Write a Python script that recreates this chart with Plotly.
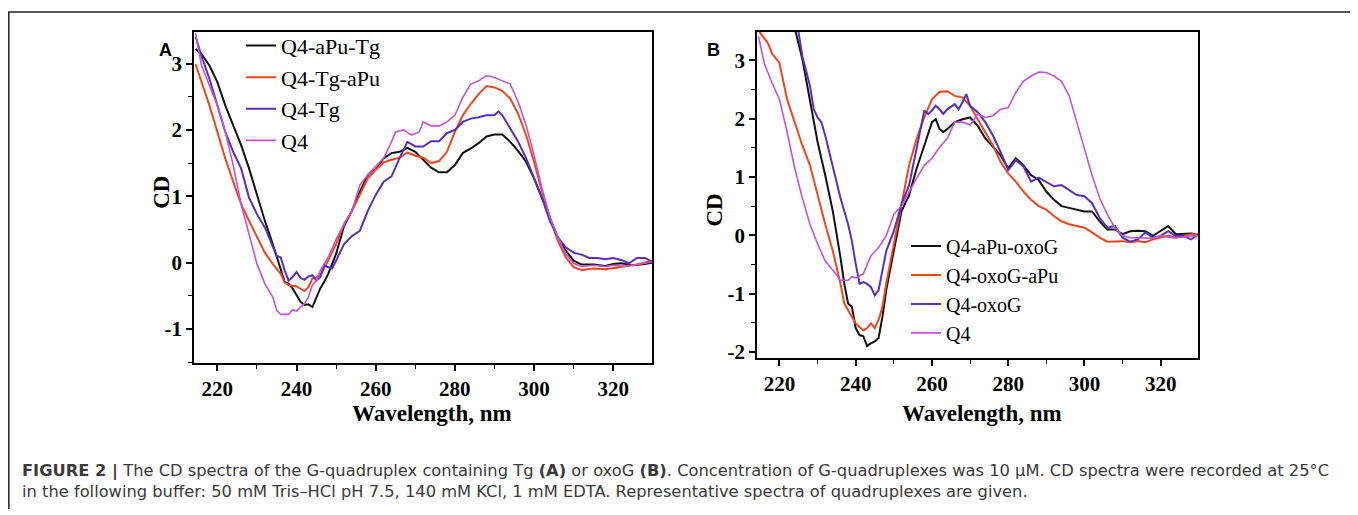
import plotly.graph_objects as go

# ---------------- Panel A data ----------------
a_black_x = [214.5, 216, 218, 220, 222, 224, 226, 228, 230, 232, 234, 236, 237, 238, 239, 240, 241, 242, 243, 244, 245, 246, 247, 248, 249, 250, 252, 254, 256, 258, 259, 260, 262, 264, 266, 268, 270, 272, 274, 276, 278, 280, 282, 284, 286, 288, 290, 292, 294, 296, 298, 300, 302, 304, 306, 308, 310, 312, 315, 318, 320, 322, 325, 328, 330]
a_black_y = [3.22, 3.14, 2.97, 2.72, 2.37, 2.07, 1.77, 1.42, 1.02, 0.63, 0.28, -0.12, -0.29, -0.32, -0.39, -0.49, -0.59, -0.64, -0.63, -0.67, -0.54, -0.39, -0.29, -0.17, -0.02, 0.13, 0.55, 0.78, 1.07, 1.32, 1.38, 1.40, 1.57, 1.65, 1.67, 1.73, 1.67, 1.55, 1.43, 1.36, 1.36, 1.47, 1.65, 1.72, 1.80, 1.90, 1.93, 1.93, 1.82, 1.68, 1.52, 1.27, 0.98, 0.68, 0.38, 0.18, 0.03, -0.03, -0.03, -0.05, -0.02, -0.01, -0.04, -0.02, 0.0]

a_orange_x = [214.5, 216, 218, 220, 222, 224, 226, 228, 230, 232, 234, 236, 237, 238, 240, 242, 243, 244, 245, 246, 248, 250, 252, 254, 256, 258, 260, 262, 264, 266, 268, 270, 272, 274, 276, 278, 280, 282, 284, 286, 288, 290, 292, 294, 296, 298, 300, 302, 304, 306, 308, 310, 312, 315, 318, 320, 323, 326, 330]
a_orange_y = [2.99, 2.72, 2.37, 1.97, 1.57, 1.22, 0.88, 0.63, 0.38, 0.15, -0.02, -0.17, -0.30, -0.34, -0.36, -0.43, -0.37, -0.24, -0.22, -0.19, 0.03, 0.28, 0.58, 0.78, 1.02, 1.27, 1.40, 1.51, 1.55, 1.58, 1.66, 1.61, 1.58, 1.50, 1.53, 1.67, 1.97, 2.22, 2.39, 2.54, 2.66, 2.64, 2.59, 2.47, 2.24, 1.92, 1.52, 1.07, 0.68, 0.33, 0.08, -0.07, -0.11, -0.09, -0.10, -0.08, -0.06, -0.03, 0.03]

a_purple_x = [214.5, 216, 218, 220, 222, 224, 226, 228, 230, 232, 234, 235, 236, 237, 238, 239, 240, 241, 242, 243, 244, 245, 246, 247, 248, 249, 250, 252, 254, 256, 258, 260, 262, 264, 266, 268, 270, 272, 274, 276, 278, 280, 282, 284, 286, 288, 290, 291, 292, 294, 296, 298, 300, 302, 304, 306, 308, 310, 312, 314, 316, 318, 320, 322, 324, 326, 328, 330]
a_purple_y = [3.41, 3.11, 2.77, 2.37, 1.97, 1.67, 1.42, 0.98, 0.73, 0.53, 0.23, 0.10, 0.08, -0.12, -0.27, -0.22, -0.14, -0.23, -0.26, -0.21, -0.19, -0.27, -0.22, -0.04, -0.07, -0.09, 0.03, 0.28, 0.40, 0.48, 0.78, 1.02, 1.22, 1.30, 1.57, 1.82, 1.75, 1.75, 1.83, 1.83, 1.95, 2.00, 2.12, 2.17, 2.19, 2.22, 2.22, 2.28, 2.22, 2.02, 1.82, 1.57, 1.27, 0.98, 0.63, 0.38, 0.23, 0.15, 0.12, 0.07, 0.07, 0.05, 0.07, 0.04, -0.01, 0.07, 0.07, 0.01]

a_q4_x = [214.5, 216, 218, 220, 222, 224, 226, 228, 230, 232, 234, 235, 236, 238, 239, 240, 241, 242, 243, 244, 245, 246, 248, 250, 252, 254, 256, 258, 260, 262, 264, 265, 267, 269, 271, 272, 274, 276, 278, 280, 282, 284, 286, 288, 290, 292, 294, 296, 298, 300, 302, 304, 306, 308, 310, 312, 315, 318, 320, 323, 326, 328, 330]
a_q4_y = [3.46, 2.97, 2.67, 2.37, 1.97, 1.47, 0.88, 0.43, -0.02, -0.32, -0.52, -0.72, -0.78, -0.78, -0.71, -0.73, -0.67, -0.62, -0.52, -0.34, -0.27, -0.12, 0.08, 0.35, 0.58, 0.78, 1.17, 1.32, 1.45, 1.57, 1.82, 1.97, 2.00, 1.92, 1.97, 2.12, 2.06, 2.06, 2.12, 2.22, 2.49, 2.69, 2.74, 2.82, 2.79, 2.74, 2.69, 2.42, 2.07, 1.62, 1.12, 0.68, 0.38, 0.13, -0.01, -0.06, -0.04, -0.06, -0.04, -0.06, -0.03, -0.01, 0.01]

# ---------------- Panel B data ----------------
b_black_x = [222, 223, 224, 226, 227, 228, 229, 230, 232, 234, 236, 237, 238, 239, 240, 241, 242, 243, 244, 245, 246, 247, 248, 249, 250, 252, 254, 256, 258, 260, 261, 262, 263, 264, 266, 268, 270, 272, 274, 276, 278, 280, 282, 284, 286, 288, 290, 292, 294, 296, 298, 300, 302, 304, 306, 308, 310, 312, 314, 316, 318, 320, 322, 324, 326, 328, 330]
b_black_y = [4.4, 4.0, 3.55, 3.02, 2.67, 2.28, 1.94, 1.60, 1.03, 0.41, -0.38, -0.83, -1.17, -1.23, -1.59, -1.71, -1.73, -1.90, -1.85, -1.82, -1.76, -1.40, -0.94, -0.60, -0.27, 0.41, 0.69, 1.15, 1.54, 1.94, 1.99, 1.82, 1.77, 1.82, 1.94, 1.99, 2.02, 1.88, 1.66, 1.51, 1.37, 1.15, 1.32, 1.20, 1.03, 0.95, 0.75, 0.61, 0.50, 0.47, 0.44, 0.41, 0.41, 0.24, 0.10, 0.10, 0.02, 0.07, 0.08, 0.07, -0.01, 0.07, 0.16, 0.02, 0.02, 0.03, 0.0]

b_orange_x = [214.5, 215, 216, 217, 218, 219, 220, 222, 224, 226, 228, 230, 232, 234, 236, 237, 238, 240, 242, 243, 244, 245, 246, 247, 248, 250, 252, 254, 256, 258, 260, 262, 264, 266, 268, 270, 272, 274, 276, 278, 280, 282, 284, 286, 288, 290, 292, 294, 296, 298, 300, 302, 304, 306, 308, 310, 312, 314, 316, 318, 320, 322, 324, 326, 328, 330]
b_orange_y = [3.55, 3.46, 3.38, 3.29, 3.12, 3.04, 2.95, 2.33, 1.94, 1.54, 1.20, 0.69, 0.19, -0.27, -0.83, -1.17, -1.28, -1.51, -1.63, -1.59, -1.51, -1.59, -1.45, -1.23, -0.83, -0.15, 0.53, 1.20, 1.66, 2.02, 2.33, 2.46, 2.47, 2.39, 2.36, 2.22, 1.99, 1.77, 1.54, 1.26, 1.06, 0.92, 0.75, 0.61, 0.50, 0.44, 0.33, 0.24, 0.19, 0.16, 0.13, 0.05, -0.04, -0.11, -0.10, -0.10, -0.12, -0.10, -0.12, -0.07, -0.04, -0.01, -0.04, -0.01, 0.02, 0.02]

b_purple_x = [223, 224, 225, 226, 228, 229, 230, 231, 232, 234, 236, 238, 239, 240, 241, 242, 243, 244, 245, 246, 247, 248, 250, 252, 254, 256, 257, 258, 259, 260, 261, 262, 263, 264, 266, 267, 268, 269, 270, 272, 274, 276, 278, 280, 281, 282, 284, 286, 288, 290, 292, 294, 296, 298, 300, 302, 304, 306, 308, 310, 312, 314, 316, 318, 320, 322, 324, 326, 328, 330]
b_purple_y = [4.3, 3.9, 3.49, 3.07, 2.56, 2.16, 2.02, 1.94, 1.71, 1.15, 0.64, 0.19, -0.10, -0.49, -0.83, -0.80, -0.83, -0.89, -1.03, -0.94, -0.60, -0.27, 0.07, 0.53, 0.86, 1.49, 1.82, 2.14, 2.08, 2.14, 2.22, 2.16, 2.08, 2.16, 2.25, 2.16, 2.28, 2.42, 2.22, 2.11, 1.94, 1.71, 1.43, 1.12, 1.20, 1.29, 1.18, 0.92, 0.99, 0.92, 0.84, 0.86, 0.78, 0.69, 0.67, 0.55, 0.30, 0.13, 0.16, -0.04, -0.11, -0.07, 0.05, -0.04, -0.01, 0.07, -0.01, -0.01, -0.07, 0.02]

b_q4_x = [214.5, 216, 218, 220, 222, 224, 226, 228, 230, 232, 234, 236, 238, 239, 240, 242, 244, 246, 248, 250, 252, 254, 256, 258, 260, 262, 264, 266, 268, 270, 272, 274, 276, 278, 280, 282, 284, 286, 288, 290, 292, 294, 296, 298, 300, 302, 304, 306, 308, 310, 312, 315, 318, 320, 323, 326, 330]
b_q4_y = [3.41, 2.95, 2.62, 2.33, 1.77, 1.15, 0.64, 0.19, -0.15, -0.44, -0.60, -0.77, -0.77, -0.71, -0.73, -0.66, -0.35, -0.21, -0.01, 0.36, 0.50, 0.75, 0.98, 1.20, 1.32, 1.51, 1.66, 1.94, 1.94, 1.89, 2.08, 2.02, 2.05, 2.16, 2.19, 2.45, 2.64, 2.73, 2.80, 2.79, 2.73, 2.64, 2.39, 1.94, 1.49, 1.03, 0.64, 0.36, 0.13, -0.01, -0.04, -0.04, -0.05, -0.01, -0.04, -0.03, 0.0]

names_a = ["Q4-aPu-Tg", "Q4-Tg-aPu", "Q4-Tg", "Q4"]
names_b = ["Q4-aPu-oxoG", "Q4-oxoG-aPu", "Q4-oxoG", "Q4"]
x_ticks = [220, 240, 260, 280, 300, 320]
y_ticks_a = [-1, 0, 1, 2, 3]
y_ticks_b = [-2, -1, 0, 1, 2, 3]
x_title = "Wavelength, nm"
y_title = "CD"

colors = ["#111111", "#f5461b", "#5631bd", "#c653d3"]
widths = [2.0, 2.0, 2.0, 1.6]

# The page body has an 8px margin, so the figure is 8px smaller and shifted.
OFF = 8
W, H = 1358 - OFF, 515 - OFF


def px(x):
    return (x - OFF) / W


def py(y):
    return 1 - (y - OFF) / H


fig = go.Figure()
series_a = [(a_black_x, a_black_y), (a_orange_x, a_orange_y), (a_purple_x, a_purple_y), (a_q4_x, a_q4_y)]
series_b = [(b_black_x, b_black_y), (b_orange_x, b_orange_y), (b_purple_x, b_purple_y), (b_q4_x, b_q4_y)]
for i, (xs, ys) in enumerate(series_a):
    fig.add_trace(go.Scatter(x=xs, y=ys, mode="lines", name=names_a[i],
                             line=dict(color=colors[i], width=widths[i]),
                             xaxis="x", yaxis="y", legend="legend"))
for i, (xs, ys) in enumerate(series_b):
    fig.add_trace(go.Scatter(x=xs, y=ys, mode="lines", name=names_b[i],
                             line=dict(color=colors[i], width=widths[i]),
                             xaxis="x2", yaxis="y2", legend="legend2"))

serif = "Liberation Serif, Times New Roman, serif"
tickfont = dict(family=serif, size=21, color="black", weight="bold")
titlefont = dict(family=serif, size=23, color="black", weight="bold")


def xax(domain, anchor):
    return dict(domain=domain, anchor=anchor, range=[214.1, 329.8],
                tickvals=x_ticks, ticktext=[str(v) for v in x_ticks],
                ticks="outside", ticklen=6, tickwidth=1.5, tickcolor="black",
                minor=dict(dtick=10, tick0=0, ticks="outside", ticklen=4, tickwidth=1.2, tickcolor="black"),
                showline=True, linecolor="black", linewidth=1.5, mirror=True,
                showgrid=False, zeroline=False, tickfont=tickfont)


def yax(domain, anchor, rng, ticks):
    return dict(domain=domain, anchor=anchor, range=rng,
                tickvals=ticks, ticktext=[str(v) for v in ticks],
                ticks="outside", ticklen=6, tickwidth=1.5, tickcolor="black",
                minor=dict(dtick=0.5, tick0=0, ticks="outside", ticklen=4, tickwidth=1.2, tickcolor="black"),
                showline=True, linecolor="black", linewidth=1.5, mirror=True,
                showgrid=False, zeroline=False, tickfont=tickfont)


fig.update_layout(
    width=W, height=H, margin=dict(l=0, r=0, t=0, b=0),
    paper_bgcolor="white", plot_bgcolor="white",
    xaxis=xax([px(194), px(652)], "y"),
    yaxis=yax([py(367), py(32)], "x", [-1.51, 3.48], y_ticks_a),
    xaxis2=xax([px(757), px(1198)], "y2"),
    yaxis2=yax([py(362), py(32)], "x2", [-2.1, 3.49], y_ticks_b),
    legend=dict(x=px(241), y=py(25), xanchor="left", yanchor="top",
                font=dict(family=serif, size=22, color="black"),
                bgcolor="rgba(0,0,0,0)", tracegroupgap=0, itemwidth=30),
    legend2=dict(x=px(906), y=py(229), xanchor="left", yanchor="top",
                 font=dict(family=serif, size=20, color="black"),
                 bgcolor="rgba(0,0,0,0)", tracegroupgap=0, itemwidth=30),
    showlegend=True,
)

# axis titles
for (x, y, ang, txt) in [(432, 418, 0, x_title), (982, 418, 0, x_title),
                         (162, 195, -90, y_title), (715, 213, -90, y_title)]:
    fig.add_annotation(text=txt, x=px(x), y=py(y), xref="paper", yref="paper",
                       xanchor="center", yanchor="middle", textangle=ang,
                       showarrow=False, font=titlefont)

sans = "Liberation Sans, Arial, sans-serif"
fig.add_annotation(text="<b>A</b>", x=px(157), y=py(38), xref="paper", yref="paper",
                   showarrow=False, font=dict(family=sans, size=18, color="black"))
fig.add_annotation(text="<b>B</b>", x=px(713), y=py(38), xref="paper", yref="paper",
                   showarrow=False, font=dict(family=sans, size=18, color="black"))

caption = ("<b>FIGURE 2 |</b> The CD spectra of the G-quadruplex containing Tg <b>(A)</b> or oxoG <b>(B)</b>. "
           "Concentration of G-quadruplexes was 10 \u03bcM. CD spectra were recorded at 25\u00b0C<br>"
           "in the following buffer: 50 mM Tris\u2013HCl pH 7.5, 140 mM KCl, 1 mM EDTA. "
           "Representative spectra of quadruplexes are given.")
fig.add_annotation(text=caption, x=px(20), y=py(487), xref="paper", yref="paper",
                   xanchor="left", yanchor="middle", align="left", showarrow=False,
                   font=dict(family="DejaVu Sans, sans-serif", size=16.3, color="#3a3a3a"))

# outer frame (top, left, right)
fig.add_shape(type="path", xref="paper", yref="paper",
              path=f"M {px(8.8)} 0 L {px(8.8)} {py(12)} L {px(1355)} {py(12)} L {px(1355)} 0",
              line=dict(color="#222222", width=1.5))

fig.write_html("out.html")
